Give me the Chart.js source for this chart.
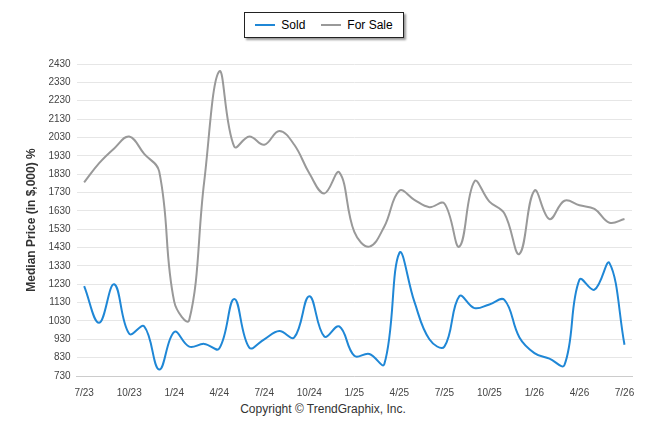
<!DOCTYPE html>
<html>
<head>
<script src="https://cdn.jsdelivr.net/npm/chart.js@4"></script>
<style>
body { margin: 0; background: #fff; font-family: 'Liberation Sans', Arial, sans-serif; }
#wrap { position: relative; width: 646px; height: 434px; }
#legend { position: absolute; left: 244px; top: 12px; width: 158px; height: 24px; border: 1px solid #222;
  box-shadow: 2px 2px 2px #999; font-size: 12px; display: flex; align-items: center; justify-content: center; gap: 16px; background: #fff; }
.item { display: flex; align-items: center; gap: 6px; }
.sw { width: 20px; height: 2px; }
#chartBox { position: absolute; left: 0; top: 52px; width: 646px; height: 350px; }
#copy { position: absolute; left: 0; width: 646px; top: 402px; text-align: center; font-size: 12px; color: #333; }
</style>
</head>
<body>
<div id="wrap">
  <div id="legend">
    <div class="item"><div class="sw" style="background:#1f87d6"></div>Sold</div>
    <div class="item"><div class="sw" style="background:#999"></div>For Sale</div>
  </div>
  <div id="chartBox"><canvas id="c"></canvas></div>
  <div id="copy">Copyright &copy; TrendGraphix, Inc.</div>
</div>
<script>
const months = ['7/23','8/23','9/23','10/23','11/23','12/23','1/24','2/24','3/24','4/24','5/24','6/24','7/24','8/24','9/24','10/24','11/24','12/24','1/25','2/25','3/25','4/25','5/25','6/25','7/25','8/25','9/25','10/25','11/25','12/25','1/26','2/26','3/26','4/26','5/26','6/26','7/26'];
const sold = [1220,1020,1230,960,1000,765,970,890,905,880,1150,885,930,975,940,1165,945,1000,840,850,795,1400,1135,930,890,1165,1100,1120,1145,940,855,825,790,1255,1200,1345,900];
const forSale = [1785,1890,1970,2035,1940,1845,1135,1035,1790,2390,1980,2035,1990,2065,1990,1835,1725,1840,1515,1435,1545,1740,1690,1650,1670,1435,1790,1680,1615,1395,1740,1585,1685,1660,1640,1565,1585];
const yMin = 730, yMax = 2430, yStep = 100;

new Chart(document.getElementById('c').getContext('2d'), {
    type: 'line',
    data: {
        labels: months,
        datasets: [{
            label: 'Sold',
            data: sold,
            borderColor: '#1f87d6',
            borderWidth: 2,
            pointRadius: 0,
            tension: 0.4
        }, {
            label: 'For Sale',
            data: forSale,
            borderColor: '#999999',
            borderWidth: 2,
            pointRadius: 0,
            tension: 0.4
        }]
    },
    options: {
        responsive: true,
        maintainAspectRatio: false,
        animation: false,
        layout: { padding: { left: 20, right: 14, top: 6, bottom: 0 } },
        plugins: { legend: { display: false }, tooltip: { enabled: false } },
        scales: {
            x: {
                offset: true,
                grid: { display: false },
                border: { color: '#ccc' },
                ticks: {
                    font: { family: 'Liberation Sans', size: 10 }, color: '#444',
                    maxRotation: 0, autoSkip: false,
                    callback: function(v, i) { return i % 3 === 0 ? months[i] : ''; }
                }
            },
            y: {
                min: yMin, max: yMax,
                grid: { color: '#e6e6e6', drawTicks: false },
                border: { display: false },
                ticks: { stepSize: yStep, font: { family: 'Liberation Sans', size: 10 }, color: '#444', padding: 6,
                    callback: function(v) { return String(v); } },
                title: { display: true, text: 'Median Price (in $,000) %', font: { family: 'Liberation Sans', size: 12, weight: 'bold' }, color: '#333' }
            }
        }
    }
});
</script>
</body>
</html>
